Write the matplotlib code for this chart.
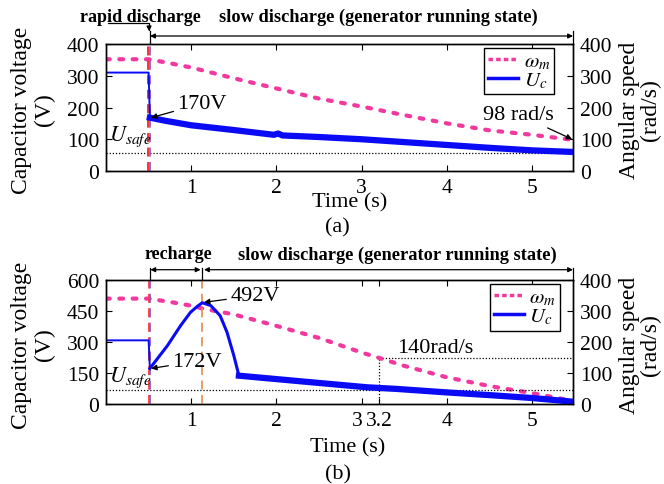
import matplotlib
matplotlib.use("Agg")
import matplotlib.pyplot as plt
import matplotlib.transforms as mtrans
import numpy as np

plt.rcParams['font.family'] = ['Liberation Serif', 'DejaVu Serif']
plt.rcParams['mathtext.fontset'] = 'stix'

# ---------------- data (a) ----------------
t_pre_a = [0.0, 0.0, 0.50, 0.515]
u_pre_a = [125, 310, 310, 170]
t_post_a = [0.515, 0.7, 1.0, 1.5, 1.97, 2.02, 2.07, 2.5, 3.0, 3.5, 4.0, 4.5, 5.0, 5.48]
u_post_a = [168, 158, 144, 129, 114, 118, 112, 107, 100, 91, 82, 73, 65, 60]
t_w_a = [0.0, 0.5, 0.7, 1.0, 1.5, 2.0, 2.5, 3.0, 3.5, 4.0, 4.5, 5.0, 5.48]
w_a = [352, 352, 342, 326, 292, 260, 228, 203, 176, 150, 128, 114, 98]
usafe_a = 56

# ---------------- data (b) ----------------
t_pre_b = [0.0, 0.0, 0.50, 0.515]
u_pre_b = [165, 308, 308, 172]
t_rise_b = [0.515, 0.72, 0.875, 0.99, 1.07, 1.13, 1.23, 1.34, 1.42, 1.50, 1.56]
u_rise_b = [172, 282, 379, 443, 472, 490, 476, 427, 347, 234, 137]
t_post_b = [1.56, 2.28, 3.06, 3.41, 4.0, 4.5, 5.0, 5.48]
u_post_b = [137, 110, 81, 73, 56, 43, 29, 11]
t_w_b = [0.0, 0.5, 0.8, 1.0, 1.13, 1.5, 2.0, 2.5, 3.0, 3.2, 3.5, 4.0, 4.5, 5.0, 5.48]
w_b = [340, 340, 327, 317, 308, 289, 252, 213, 166, 149, 123, 86, 58, 35, 10]
usafe_b = 70
t_mark_b = 3.2
w_mark_b = 147

xticks_a = [1, 2, 3, 4, 5]
xticks_b = [1, 2, 3, 3.2, 4, 5]
xticklabels_b = ['1', '2', '3', '3.2', '4', '5']

W, H = 664, 485
fig = plt.figure(figsize=(W / 100, H / 100), dpi=100)

def px_axes(l, t, r, b):
    return fig.add_axes([l / W, 1 - b / H, (r - l) / W, (b - t) / H])

MAG = '#f2379d'
BLU = '#0a0af5'
TS = 15.5
XMAX = 5.48


def style(ax, ax2, ylim_l, yticks_l, ylim_r, yticks_r, ycen):
    ax.set_xlim(0, XMAX)
    ax.set_ylim(*ylim_l)
    ax.set_yticks(yticks_l)
    ax2.set_ylim(*ylim_r)
    ax2.set_yticks(yticks_r)
    ax.tick_params(axis='both', direction='in', length=4, width=0.8, labelsize=TS, pad=5,
                   top=True, right=False)
    ax2.tick_params(axis='y', direction='in', length=4, width=0.8, labelsize=TS, pad=5)
    for a in (ax, ax2):
        for s in a.spines.values():
            s.set_linewidth(1.0)
    fig.text(33 / W, 1 - ycen / H, 'Capacitor voltage\n(V)', fontsize=17, linespacing=1.15,
             rotation=90, ha='center', va='center', multialignment='center')
    fig.text(640 / W, 1 - ycen / H, 'Angular speed\n(rad/s)', fontsize=17, linespacing=0.95,
             rotation=90, ha='center', va='center', multialignment='center')


def dotted(ax, x, y, lw=3.0, **kw):
    line, = ax.plot(x, y, color=MAG, lw=lw, linestyle=(0, (0.9, 2.3)),
                    dash_capstyle='round', **kw)
    return line


def bracket_arrow(ax, x0, x1, y):
    ax.annotate('', xy=(x1, y), xytext=(x0, y), xycoords=('data', 'axes fraction'),
                arrowprops=dict(arrowstyle='<|-|>', color='black', lw=0.9,
                                mutation_scale=7, shrinkA=0, shrinkB=0),
                annotation_clip=False)


def legend(ax, anchor):
    leg_h = [plt.Line2D([], [], color=MAG, lw=2.5, ls=(0, (1.3, 0.9))),
             plt.Line2D([], [], color=BLU, lw=2.5)]
    ax.legend(leg_h, [r'$\omega_m$', r'$U_c$'], loc='upper right', bbox_to_anchor=anchor,
              fontsize=15, frameon=True, fancybox=False, edgecolor='black', framealpha=1,
              handlelength=1.45, handletextpad=0.25, borderpad=0.2, labelspacing=-0.05,
              borderaxespad=0)

# ================= (a) =================
ax = px_axes(106, 45, 573, 172)
ax2 = ax.twinx()
ax.set_zorder(ax2.get_zorder() + 1)
ax.patch.set_visible(False)

ax.axhline(usafe_a, color='black', lw=0.9, ls=(0, (1, 1.5)))
ax.axvline(0.497, color='#ff2020', lw=1.3, ls=(0, (5, 3)))
ax.axvline(0.517, color='#8a5acd', lw=1.3, ls=(0, (5, 3)))
ax.plot(t_pre_a, u_pre_a, color=BLU, lw=1.4)
ax.plot(t_post_a, u_post_a, color=BLU, lw=4.5, solid_joinstyle='round')
dotted(ax2, t_w_a, w_a)
ax.set_xticks(xticks_a)
style(ax, ax2, (0, 400), [0, 100, 200, 300, 400], (0, 400), [0, 100, 200, 300, 400], 110)

ax.text(0.03, 110, '$U_{safe}$', fontsize=16, ha='left', va='center')
ax.annotate('170V', xy=(0.53, 168), xytext=(0.84, 213), fontsize=16, ha='left', va='center',
            arrowprops=dict(arrowstyle='-|>', color='black', lw=0.9, mutation_scale=8,
                            shrinkA=1, shrinkB=0))
ax2.annotate('98 rad/s', xy=(5.47, 100), xytext=(4.84, 178), fontsize=16, ha='center',
             va='center',
             arrowprops=dict(arrowstyle='-|>', color='black', lw=0.9, mutation_scale=8,
                             shrinkA=2, shrinkB=0))
legend(ax, (0.96, 0.972))

# annotations above (a)
ax.annotate('', xy=(0.505, 1.10), xytext=(0.02, 1.165), xycoords=('data', 'axes fraction'),
            textcoords=('data', 'axes fraction'),
            arrowprops=dict(arrowstyle='-|>', color='black', lw=0.9, mutation_scale=7,
                            connectionstyle='angle,angleA=0,angleB=90,rad=0',
                            shrinkA=0, shrinkB=0), annotation_clip=False)
for xv in (0.517, XMAX):
    ax.plot([xv, xv], [1.0, 1.10], color='black', lw=0.9, transform=ax.get_xaxis_transform(),
            clip_on=False)
bracket_arrow(ax, 0.517, XMAX, 1.063)
ax.text(0.40, 1.22, 'rapid discharge', fontsize=13, fontweight='bold', ha='center', va='center',
        transform=ax.get_xaxis_transform())
ax.text(3.20, 1.22, 'slow discharge (generator running state)', fontsize=13.2, fontweight='bold',
        ha='center', va='center', transform=ax.get_xaxis_transform())

fig.text(350 / W, 1 - 203 / H, 'Time (s)', fontsize=16, ha='center', va='center')
fig.text(337 / W, 1 - 228 / H, '(a)', fontsize=16, ha='center', va='center')

# ================= (b) =================
bx = px_axes(106, 281, 573, 405)
bx2 = bx.twinx()
bx.set_zorder(bx2.get_zorder() + 1)
bx.patch.set_visible(False)

bx.axhline(usafe_b, color='black', lw=0.9, ls=(0, (1, 1.5)))
bx.axvline(0.50, color='#ff3a3a', lw=1.3, ls=(0, (5, 3)))
bx.axvline(0.52, color='#8a5acd', lw=1.3, ls=(0, (5, 3)))
bx.axvline(1.13, color='#e8935a', lw=1.3, ls=(0, (5, 3)))
bx2.plot([t_mark_b, t_mark_b], [0, w_mark_b], color='black', lw=0.9, ls=(0, (1, 1.5)))
bx2.plot([t_mark_b, XMAX], [w_mark_b, w_mark_b], color='black', lw=0.9, ls=(0, (1, 1.5)))
bx.plot(t_pre_b, u_pre_b, color=BLU, lw=1.4)
bx.plot(t_rise_b, u_rise_b, color=BLU, lw=2.2, solid_joinstyle='round')
bx.plot(t_post_b, u_post_b, color=BLU, lw=4.5, solid_joinstyle='round')
dotted(bx2, t_w_b, w_b)
bx.set_xticks(xticks_b)
bx.set_xticklabels(xticklabels_b)
style(bx, bx2, (0, 600), [0, 150, 300, 450, 600], (0, 400), [0, 100, 200, 300, 400], 345)
# nudge the "3" label left, as in the reference
lab3 = bx.get_xticklabels()[2]
lab3.set_transform(lab3.get_transform() + mtrans.ScaledTranslation(-4 / 100, 0, fig.dpi_scale_trans))
lab32 = bx.get_xticklabels()[3]
lab32.set_transform(lab32.get_transform() + mtrans.ScaledTranslation(1 / 100, 0, fig.dpi_scale_trans))

bx.text(0.03, 130, '$U_{safe}$', fontsize=16, ha='left', va='center')
bx.annotate('172V', xy=(0.53, 172), xytext=(0.78, 207), fontsize=16, ha='left', va='center',
            arrowprops=dict(arrowstyle='-|>', color='black', lw=0.9, mutation_scale=8,
                            shrinkA=1, shrinkB=0))
bx.annotate('492V', xy=(1.15, 492), xytext=(1.46, 525), fontsize=16, ha='left', va='center',
            arrowprops=dict(arrowstyle='-|>', color='black', lw=0.9, mutation_scale=8,
                            shrinkA=1, shrinkB=0))
bx2.text(3.86, 183, '140rad/s', fontsize=16, ha='center', va='center')
legend(bx, (0.972, 0.968))

for xv in (0.52, 1.13, XMAX):
    bx.plot([xv, xv], [1.0, 1.10], color='black', lw=0.9, transform=bx.get_xaxis_transform(),
            clip_on=False)
bracket_arrow(bx, 0.52, 1.11, 1.083)
bracket_arrow(bx, 1.15, XMAX, 1.083)
bx.text(0.85, 1.21, 'recharge', fontsize=13, fontweight='bold', ha='center', va='center',
        transform=bx.get_xaxis_transform())
bx.text(3.42, 1.21, 'slow discharge (generator running state)', fontsize=13.2, fontweight='bold',
        ha='center', va='center', transform=bx.get_xaxis_transform())

fig.text(348 / W, 1 - 448 / H, 'Time (s)', fontsize=16, ha='center', va='center')
fig.text(338 / W, 1 - 475 / H, '(b)', fontsize=16, ha='center', va='center')

fig.savefig('out.png', dpi=100)
